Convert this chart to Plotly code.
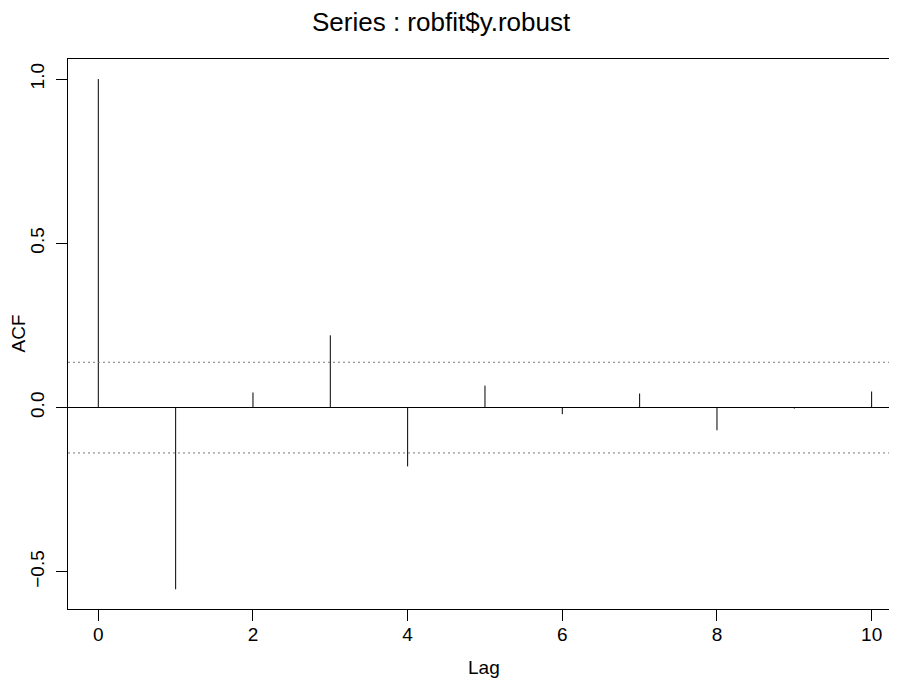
import plotly.graph_objects as go

lags = [0, 1, 2, 3, 4, 5, 6, 7, 8, 9, 10]
acf_values = [1.0, -0.553, 0.046, 0.220, -0.179, 0.067, -0.020, 0.043, -0.069, -0.003, 0.049]
ci_bound = 0.138
x_ticks = [0, 2, 4, 6, 8, 10]
y_ticks = [-0.5, 0.0, 0.5, 1.0]
y_tick_text = ["\u22120.5", "0.0", "0.5", "1.0"]

FONT = "Liberation Sans, Arial, Helvetica, sans-serif"

xs, ys = [], []
for lag, v in zip(lags, acf_values):
    xs += [lag, lag, None]
    ys += [0, v, None]

fig = go.Figure()
fig.add_trace(go.Scatter(x=xs, y=ys, mode="lines",
                         line=dict(color="black", width=1),
                         hoverinfo="skip", showlegend=False))

for b in (ci_bound, -ci_bound):
    fig.add_shape(type="line", xref="paper", yref="y", x0=0, x1=1, y0=b, y1=b,
                  line=dict(color="#777777", width=1, dash="2px,3px"))

# page has an 8px body margin, so the figure is drawn 8px smaller and offset
OFF = 8
W, H = 897 - OFF, 679 - OFF
L, R, T, B = 68 - OFF, 0, 59 - OFF, 70
PW, PH = W - L - R, H - T - B

fig.update_layout(
    width=W, height=H,
    margin=dict(l=L, r=R, t=T, b=B),
    paper_bgcolor="white", plot_bgcolor="white",
    font=dict(family=FONT, size=19, color="black"),
    showlegend=False,
    xaxis=dict(range=[-0.392, 10.328], tickvals=x_ticks, ticks="outside", ticklen=11,
               tickcolor="black", tickwidth=1, showgrid=False, zeroline=False,
               showline=True, linecolor="black", linewidth=1, mirror=True,
               tickfont=dict(size=19), ticklabelstandoff=-3),
    yaxis=dict(range=[-0.613, 1.061], tickvals=y_ticks, ticktext=y_tick_text,
               ticks="outside", ticklen=11, tickcolor="black", tickwidth=1,
               tickangle=-90, showgrid=False, zeroline=True, zerolinecolor="black",
               zerolinewidth=1, showline=True, linecolor="black", linewidth=1,
               mirror=False, tickfont=dict(size=19), ticklabelstandoff=4),
    annotations=[
        dict(text="Series : robfit$y.robust", xref="paper", yref="paper",
             x=(441 - OFF - L) / PW, y=1 + (T - (22 - OFF)) / PH,
             xanchor="center", yanchor="middle", showarrow=False,
             font=dict(size=26)),
        dict(text="Lag", xref="paper", yref="paper",
             x=(484 - OFF - L) / PW, y=-((667 - OFF) - (H - B)) / PH,
             xanchor="center", yanchor="middle", showarrow=False,
             font=dict(size=19)),
        dict(text="ACF", xref="paper", yref="paper",
             x=-(L - (17.5 - OFF)) / PW, y=0.5, textangle=-90,
             xanchor="center", yanchor="middle", showarrow=False,
             font=dict(size=19)),
    ],
)

fig.write_html("out.html")
